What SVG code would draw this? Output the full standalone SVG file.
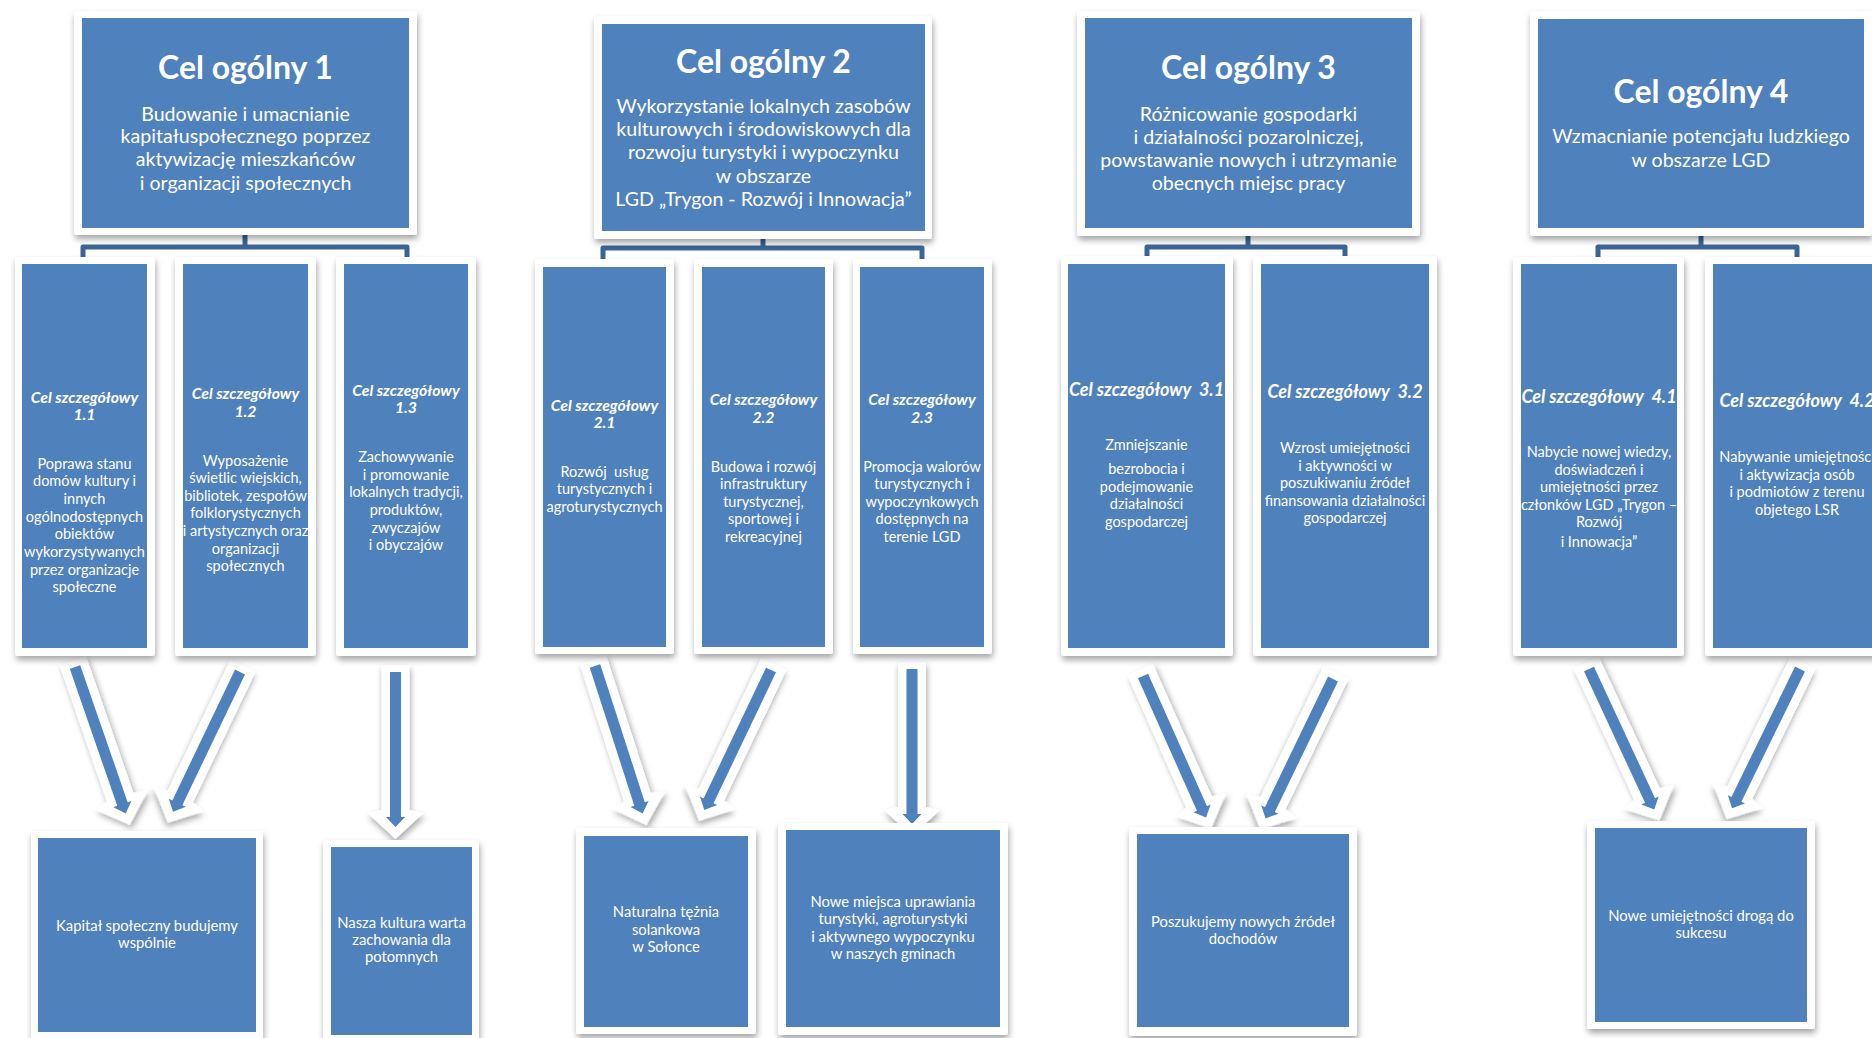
<svg xmlns="http://www.w3.org/2000/svg" xmlns:xlink="http://www.w3.org/1999/xlink" width="1872" height="1038" viewBox="0 0 1872 1038">
<defs>
<filter id="sh" x="-20%" y="-20%" width="140%" height="140%">
<feDropShadow dx="1" dy="4" stdDeviation="3" flood-color="#000" flood-opacity="0.35"/>
</filter>
<g id="arr">
<polygon points="-14,-7 14,-7 14,138 28,141 0,167 -28,141 -14,138" fill="#fff" filter="url(#sh)"/>
<polygon points="-5.5,0 5.5,0 5.5,145 9.5,145 0,155 -9.5,145 -5.5,145" fill="#4F81BD"/>
</g>
</defs>
<style>
.fr{fill:#fff;filter:url(#sh)}
.bl{fill:#4F81BD}
text{fill:#fff;font-family:Lato,"Open Sans","Liberation Sans",sans-serif;text-anchor:middle}
.t0{font-size:32px;font-weight:bold}
.b0{font-size:19.6px}
.t1{font-size:15.8px;font-weight:bold;font-style:italic}
.t2{font-size:18px;font-weight:bold;font-style:italic}
.b1{font-size:14.5px}
.b2{font-size:14.8px}
.br{fill:none;stroke:#3B6496;stroke-width:5;stroke-linejoin:round}
</style>
<rect width="1872" height="1038" fill="#fff"/>

<g id="connectors">
<path class="br" d="M83,262 V247 H407 V262 M245,235 V247"/>
<path class="br" d="M603,262 V248 H922 V262 M763,239 V248"/>
<path class="br" d="M1147,262 V247 H1345 V262 M1248,236 V247"/>
<path class="br" d="M1598,262 V247 H1797 V262 M1701,236 V247"/>
<use xlink:href="#arr" transform="translate(75,667) rotate(-19.1)"/>
<use xlink:href="#arr" transform="translate(240,672) rotate(25.6)"/>
<use xlink:href="#arr" transform="translate(395.5,672)"/>
<use xlink:href="#arr" transform="translate(595,666) rotate(-17.9)"/>
<use xlink:href="#arr" transform="translate(771,670) rotate(25.5)"/>
<use xlink:href="#arr" transform="translate(912,669)"/>
<use xlink:href="#arr" transform="translate(1143,676) rotate(-24)"/>
<use xlink:href="#arr" transform="translate(1333,679) rotate(25.8)"/>
<use xlink:href="#arr" transform="translate(1589,669) rotate(-24.9)"/>
<use xlink:href="#arr" transform="translate(1800,669) rotate(26)"/>
</g>

<g id="co1">
<rect class="fr" x="74" y="11" width="343" height="224" rx="3"/>
<rect class="bl" x="82" y="18" width="327" height="210"/>
<text class="t0" x="245.5" y="79">Cel ogólny 1</text>
<text class="b0" x="245.5" y="121">Budowanie i umacnianie</text>
<text class="b0" x="245.5" y="143">kapitałuspołecznego poprzez</text>
<text class="b0" x="245.5" y="166">aktywizację mieszkańców</text>
<text class="b0" x="245.5" y="190">i organizacji społecznych</text>
</g>
<g id="co2">
<rect class="fr" x="594" y="16" width="338" height="223" rx="3"/>
<rect class="bl" x="602" y="24" width="323" height="207"/>
<text class="t0" x="763.5" y="73">Cel ogólny 2</text>
<text class="b0" x="763.5" y="113">Wykorzystanie lokalnych zasobów</text>
<text class="b0" x="763.5" y="136">kulturowych i środowiskowych dla</text>
<text class="b0" x="763.5" y="159">rozwoju turystyki i wypoczynku</text>
<text class="b0" x="763.5" y="183">w obszarze</text>
<text class="b0" x="763.5" y="206">LGD „Trygon - Rozwój i Innowacja”</text>
</g>
<g id="co3">
<rect class="fr" x="1077" y="11" width="343" height="225" rx="3"/>
<rect class="bl" x="1085" y="18" width="327" height="210"/>
<text class="t0" x="1248.5" y="79">Cel ogólny 3</text>
<text class="b0" x="1248.5" y="121">Różnicowanie gospodarki</text>
<text class="b0" x="1248.5" y="144">i działalności pozarolniczej,</text>
<text class="b0" x="1248.5" y="167">powstawanie nowych i utrzymanie</text>
<text class="b0" x="1248.5" y="190">obecnych miejsc pracy</text>
</g>
<g id="co4">
<rect class="fr" x="1530" y="11" width="342" height="225" rx="3"/>
<rect class="bl" x="1538" y="19" width="326" height="209"/>
<text class="t0" x="1701" y="103">Cel ogólny 4</text>
<text class="b0" x="1701" y="143">Wzmacnianie potencjału ludzkiego</text>
<text class="b0" x="1701" y="167">w obszarze LGD</text>
</g>

<g id="cs11">
<rect class="fr" x="15" y="257" width="140" height="399" rx="3"/>
<rect class="bl" x="22" y="264" width="125" height="384"/>
<text class="t1" x="84.5" y="403">Cel szczegółowy</text>
<text class="t1" x="84.5" y="420">1.1</text>
<text class="b1" x="84.5" y="469">Poprawa stanu</text>
<text class="b1" x="84.5" y="486">domów kultury i</text>
<text class="b1" x="84.5" y="504">innych</text>
<text class="b1" x="84.5" y="522">ogólnodostępnych</text>
<text class="b1" x="84.5" y="539">obiektów</text>
<text class="b1" x="84.5" y="557">wykorzystywanych</text>
<text class="b1" x="84.5" y="575">przez organizacje</text>
<text class="b1" x="84.5" y="592">społeczne</text>
</g>
<g id="cs12">
<rect class="fr" x="175" y="257" width="141" height="399" rx="3"/>
<rect class="bl" x="183" y="264" width="125" height="384"/>
<text class="t1" x="245.5" y="399">Cel szczegółowy</text>
<text class="t1" x="245.5" y="417">1.2</text>
<text class="b1" x="245.5" y="466">Wyposażenie</text>
<text class="b1" x="245.5" y="483">świetlic wiejskich,</text>
<text class="b1" x="245.5" y="501">bibliotek, zespołów</text>
<text class="b1" x="245.5" y="518">folklorystycznych</text>
<text class="b1" x="245.5" y="536">i artystycznych oraz</text>
<text class="b1" x="245.5" y="554">organizacji</text>
<text class="b1" x="245.5" y="571">społecznych</text>
</g>
<g id="cs13">
<rect class="fr" x="336" y="257" width="140" height="399" rx="3"/>
<rect class="bl" x="344" y="264" width="124" height="384"/>
<text class="t1" x="406" y="396">Cel szczegółowy</text>
<text class="t1" x="406" y="413">1.3</text>
<text class="b1" x="406" y="462">Zachowywanie</text>
<text class="b1" x="406" y="480">i promowanie</text>
<text class="b1" x="406" y="497">lokalnych tradycji,</text>
<text class="b1" x="406" y="515">produktów,</text>
<text class="b1" x="406" y="533">zwyczajów</text>
<text class="b1" x="406" y="550">i obyczajów</text>
</g>

<g id="cs21">
<rect class="fr" x="535" y="259" width="139" height="395" rx="3"/>
<rect class="bl" x="543" y="267" width="123" height="380"/>
<text class="t1" x="604.5" y="411">Cel szczegółowy</text>
<text class="t1" x="604.5" y="428">2.1</text>
<text class="b1" x="604.5" y="477" xml:space="preserve">Rozwój  usług</text>
<text class="b1" x="604.5" y="494">turystycznych i</text>
<text class="b1" x="604.5" y="512">agroturystycznych</text>
</g>
<g id="cs22">
<rect class="fr" x="694" y="259" width="139" height="395" rx="3"/>
<rect class="bl" x="702" y="267" width="123" height="380"/>
<text class="t1" x="763.5" y="405">Cel szczegółowy</text>
<text class="t1" x="763.5" y="423">2.2</text>
<text class="b1" x="763.5" y="472">Budowa i rozwój</text>
<text class="b1" x="763.5" y="489">infrastruktury</text>
<text class="b1" x="763.5" y="507">turystycznej,</text>
<text class="b1" x="763.5" y="524">sportowej i</text>
<text class="b1" x="763.5" y="542">rekreacyjnej</text>
</g>
<g id="cs23">
<rect class="fr" x="853" y="259" width="139" height="395" rx="3"/>
<rect class="bl" x="860" y="267" width="124" height="380"/>
<text class="t1" x="922" y="405">Cel szczegółowy</text>
<text class="t1" x="922" y="423">2.3</text>
<text class="b1" x="922" y="472">Promocja walorów</text>
<text class="b1" x="922" y="489">turystycznych i</text>
<text class="b1" x="922" y="507">wypoczynkowych</text>
<text class="b1" x="922" y="524">dostępnych na</text>
<text class="b1" x="922" y="542">terenie LGD</text>
</g>

<g id="cs31">
<rect class="fr" x="1061" y="256" width="172" height="400" rx="3"/>
<rect class="bl" x="1068" y="264" width="157" height="384"/>
<text class="t2" x="1146.5" y="396" xml:space="preserve">Cel szczegółowy  3.1</text>
<text class="b1" x="1146.5" y="450">Zmniejszanie</text>
<text class="b1" x="1146.5" y="474">bezrobocia i</text>
<text class="b1" x="1146.5" y="492">podejmowanie</text>
<text class="b1" x="1146.5" y="509">działalności</text>
<text class="b1" x="1146.5" y="527">gospodarczej</text>
</g>
<g id="cs32">
<rect class="fr" x="1253" y="256" width="184" height="400" rx="3"/>
<rect class="bl" x="1261" y="264" width="168" height="384"/>
<text class="t2" x="1345" y="398" xml:space="preserve">Cel szczegółowy  3.2</text>
<text class="b1" x="1345" y="453">Wzrost umiejętności</text>
<text class="b1" x="1345" y="471">i aktywności w</text>
<text class="b1" x="1345" y="488">poszukiwaniu źródeł</text>
<text class="b1" x="1345" y="506">finansowania działalności</text>
<text class="b1" x="1345" y="523">gospodarczej</text>
</g>

<g id="cs41">
<rect class="fr" x="1513" y="257" width="171" height="399" rx="3"/>
<rect class="bl" x="1521" y="264" width="156" height="384"/>
<text class="t2" x="1599" y="403" xml:space="preserve">Cel szczegółowy  4.1</text>
<text class="b1" x="1599" y="457">Nabycie nowej wiedzy,</text>
<text class="b1" x="1599" y="475">doświadczeń i</text>
<text class="b1" x="1599" y="492">umiejętności przez</text>
<text class="b1" x="1599" y="510">członków LGD „Trygon –</text>
<text class="b1" x="1599" y="527">Rozwój</text>
<text class="b1" x="1599" y="547">i Innowacja”</text>
</g>
<g id="cs42">
<rect class="fr" x="1705" y="257" width="184" height="399" rx="3"/>
<rect class="bl" x="1713" y="264" width="168" height="384"/>
<text class="t2" x="1797" y="407" xml:space="preserve">Cel szczegółowy  4.2</text>
<text class="b1" x="1797" y="462">Nabywanie umiejętności</text>
<text class="b1" x="1797" y="480">i aktywizacja osób</text>
<text class="b1" x="1797" y="497">i podmiotów z terenu</text>
<text class="b1" x="1797" y="515">objetego LSR</text>
</g>

<g id="r1">
<rect class="fr" x="31" y="831" width="232" height="210" rx="3"/>
<rect class="bl" x="38" y="838" width="218" height="194"/>
<text class="b2" x="147" y="931">Kapitał społeczny budujemy</text>
<text class="b2" x="147" y="948">wspólnie</text>
</g>
<g id="r2">
<rect class="fr" x="323" y="840" width="156" height="202" rx="3"/>
<rect class="bl" x="331" y="847" width="141" height="188"/>
<text class="b2" x="401.5" y="928">Nasza kultura warta</text>
<text class="b2" x="401.5" y="945">zachowania dla</text>
<text class="b2" x="401.5" y="962">potomnych</text>
</g>
<g id="r3">
<rect class="fr" x="576" y="828" width="180" height="206" rx="3"/>
<rect class="bl" x="584" y="836" width="164" height="191"/>
<text class="b2" x="666" y="917">Naturalna tężnia</text>
<text class="b2" x="666" y="935">solankowa</text>
<text class="b2" x="666" y="952">w Sołonce</text>
</g>
<g id="r4">
<rect class="fr" x="778" y="823" width="230" height="212" rx="3"/>
<rect class="bl" x="786" y="830" width="214" height="197"/>
<text class="b2" x="893" y="907">Nowe miejsca uprawiania</text>
<text class="b2" x="893" y="924">turystyki, agroturystyki</text>
<text class="b2" x="893" y="942">i aktywnego wypoczynku</text>
<text class="b2" x="893" y="959">w naszych gminach</text>
</g>
<g id="r5">
<rect class="fr" x="1129" y="827" width="228" height="209" rx="3"/>
<rect class="bl" x="1137" y="834" width="212" height="193"/>
<text class="b2" x="1243" y="927">Poszukujemy nowych źródeł</text>
<text class="b2" x="1243" y="944">dochodów</text>
</g>
<g id="r6">
<rect class="fr" x="1587" y="821" width="228" height="208" rx="3"/>
<rect class="bl" x="1595" y="828" width="212" height="194"/>
<text class="b2" x="1701" y="921">Nowe umiejętności drogą do</text>
<text class="b2" x="1701" y="938">sukcesu</text>
</g>
</svg>
